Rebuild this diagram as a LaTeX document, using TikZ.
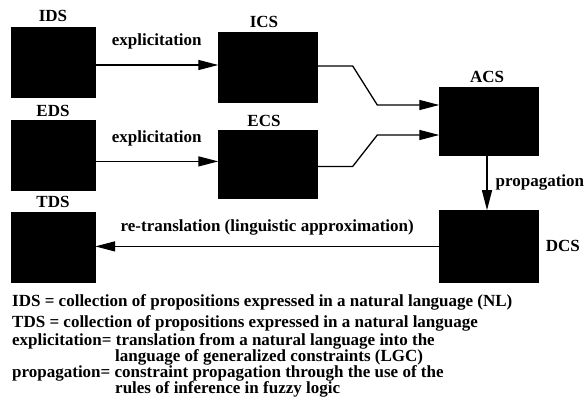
\documentclass[tikz,border=0pt]{standalone}
\usepackage{fontspec}
\setmainfont{Liberation Serif}
\usepackage{tikz}
\usetikzlibrary{arrows.meta, positioning, calc}
\tikzstyle{blackbox} = [rectangle, draw=black, fill=black, inner sep=0pt, minimum width=84pt, minimum height=70pt]
\tikzstyle{widebox} = [blackbox, minimum width=99pt]
\tikzstyle{lbl} = [inner sep=0pt, font=\bfseries\fontsize{17}{20}\selectfont]
\tikzstyle{arrow} = [line width=1.3pt, -{Triangle[length=20pt,width=10pt]}]

\begin{document}
\begin{tikzpicture}[x=1pt, y=-1pt]
        \useasboundingbox (0,0) rectangle (585,406);
        \node (ids) [blackbox] at (53,62) {};
        \node (eds) [blackbox, below=23pt of ids] {};
        \node (tds) [blackbox, below=21pt of eds] {};
        \node (ics) [widebox, minimum height=70pt] at (268,67) {};
        \node (ecs) [widebox, minimum height=68pt, below=28pt of ics] {};
        \node (acs) [widebox, minimum height=68pt] at (489,121) {};
        \node (dcs) [widebox, minimum height=72pt, below=55pt of acs] {};

        \node (idslbl) [lbl, above=5pt of ids] {IDS};
        \node (edslbl) [lbl, above=3pt of eds] {EDS};
        \node (tdslbl) [lbl, above=4pt of tds] {TDS};
        \node (icslbl) [lbl, above=4pt of ics, xshift=-4pt] {ICS};
        \node (ecslbl) [lbl, above=3pt of ecs, xshift=-4pt] {ECS};
        \node (acslbl) [lbl, above=4pt of acs, xshift=-2pt] {ACS};
        \node (dcslbl) [lbl, right=7pt of dcs] {DCS};

        \draw [arrow] ([yshift=-3pt]ids.east) -- node[lbl, above=15pt] {explicitation} ([yshift=-3pt]ids.east -| ics.west);
        \draw [arrow] ([yshift=-6pt]eds.east) -- node[lbl, above=15pt] {explicitation} ([yshift=-6pt]eds.east -| ecs.west);
        \draw [arrow] ([yshift=1pt]ics.east) -- ++(35,0) -- ($(acs.west)+(-62,-16)$) -- ([yshift=16pt]acs.west);
        \draw [arrow] ([yshift=-2pt]ecs.east) -- ++(35,0) -- ($(acs.west)+(-62,14)$) -- ([yshift=-14pt]acs.west);
        \draw [arrow] ([xshift=-2pt]acs.south) -- node[lbl, right=8pt] {propagation} ([xshift=-2pt]dcs.north);
        \draw [arrow] (dcs.west) -- node[lbl, above=10pt] {re-translation (linguistic approximation)} (dcs.west -| tds.east);

        % legend
        \node (note1) [lbl, anchor=base west] at (12,306) {IDS = collection of propositions expressed in a natural language (NL)};
        \node (note2) [lbl, anchor=base west] at (12,327) {TDS = collection of propositions expressed in a natural language};
        \node (note3) [lbl, anchor=base west] at (12,345) {explicitation= translation from a natural language into the};
        \node (note4) [lbl, anchor=base west] at (115,361) {language of generalized constraints (LGC)};
        \node (note5) [lbl, anchor=base west] at (12,377) {propagation= constraint propagation through the use of the};
        \node (note6) [lbl, anchor=base west] at (115,393) {rules of inference in fuzzy logic};
    \end{tikzpicture}
\end{document}
